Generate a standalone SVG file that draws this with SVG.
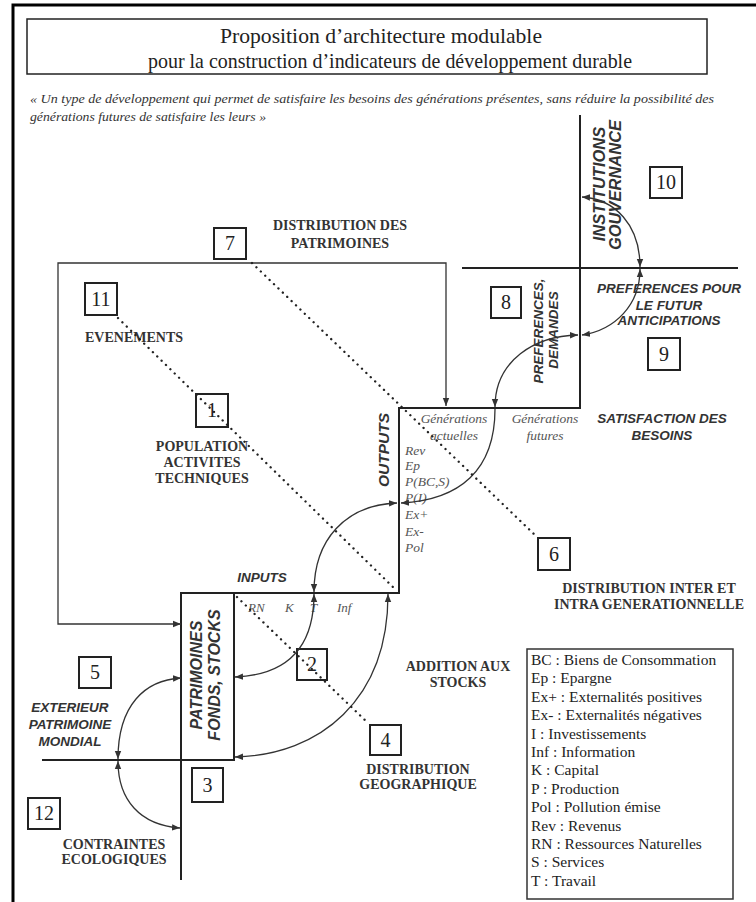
<svg xmlns="http://www.w3.org/2000/svg" width="756" height="902" viewBox="0 0 756 902">
<defs>
<style>
.frame{fill:none;stroke:#000;stroke-width:3}
.axis{fill:none;stroke:#222;stroke-width:2}
.thin{fill:none;stroke:#333;stroke-width:1.3}
.cv{fill:none;stroke:#333;stroke-width:1.3;marker-start:url(#ah);marker-end:url(#ah)}
.cve{fill:none;stroke:#333;stroke-width:1.3;marker-end:url(#ah)}
.dot{fill:none;stroke:#222;stroke-width:2.3;stroke-dasharray:0.1 6;stroke-linecap:round}
.nb{fill:none;stroke:#222;stroke-width:2}
.num{font-family:"Liberation Serif",serif;font-size:20px;text-anchor:middle;fill:#222}
.lb{font-family:"Liberation Serif",serif;font-weight:bold;font-size:14px;fill:#333;text-anchor:middle}
.sb{font-family:"Liberation Sans",Arial,sans-serif;font-weight:bold;font-style:italic;font-size:13.5px;fill:#333;text-anchor:middle}
.rot{font-family:"Liberation Sans",Arial,sans-serif;font-weight:bold;font-style:italic;font-size:16px;fill:#333;text-anchor:middle}
.it{font-family:"Liberation Serif",serif;font-style:italic;font-size:13.5px;fill:#555}
.leg{font-family:"Liberation Serif",serif;font-size:15.5px;fill:#222}
.ttl{font-family:"Liberation Serif",serif;font-size:21px;fill:#222;text-anchor:middle}
.qt{font-family:"Liberation Serif",serif;font-style:italic;font-size:13px;fill:#333}
</style>
<marker id="ah" viewBox="0 0 10 10" refX="10" refY="5" markerWidth="8" markerHeight="8" markerUnits="userSpaceOnUse" orient="auto-start-reverse"><path d="M0,1 L10,5 L0,9 z" fill="#333"/></marker>
</defs>
<rect width="756" height="902" fill="#fff"/>
<path class="frame" d="M13,902 L13,5 L756,5"/>

<g id="title">
<rect x="27" y="19" width="680" height="55" fill="none" stroke="#222" stroke-width="1.5"/>
<text class="ttl" x="381" y="43" textLength="322" lengthAdjust="spacingAndGlyphs">Proposition d’architecture modulable</text>
<text class="ttl" x="390" y="68" textLength="484" lengthAdjust="spacingAndGlyphs">pour la construction d’indicateurs de développement durable</text>
</g>
<g id="quote">
<text class="qt" x="30" y="103" textLength="684" lengthAdjust="spacingAndGlyphs">« Un type de développement qui permet de satisfaire les besoins des générations présentes, sans réduire la possibilité des</text>
<text class="qt" x="30" y="121" textLength="236" lengthAdjust="spacingAndGlyphs">générations futures de satisfaire les leurs »</text>
</g>

<g id="structure">
<path class="axis" d="M181,880 L181,593 L399,593 L399,408 L580,408 L580,115"/>
<path class="axis" d="M234,593 L234,760 L42,760"/>
<path class="axis" d="M462,268 L738,268"/>
</g>

<g id="node-outputs">
<text class="rot" style="font-size:15.5px" transform="translate(388.5,450) rotate(-90)">OUTPUTS</text>
<text class="it" x="454" y="423" text-anchor="middle">Générations</text>
<text class="it" x="454" y="440" text-anchor="middle">actuelles</text>
<text class="it" x="545" y="423" text-anchor="middle">Générations</text>
<text class="it" x="545" y="440" text-anchor="middle">futures</text>
<text class="it" x="405" y="455">Rev</text>
<text class="it" x="405" y="470">Ep</text>
<text class="it" x="405" y="486">P(BC,S)</text>
<text class="it" x="405" y="502">P(I)</text>
<text class="it" x="405" y="519">Ex+</text>
<text class="it" x="405" y="536">Ex-</text>
<text class="it" x="405" y="552">Pol</text>
</g>
<g id="node-inputs">
<text class="sb" x="262" y="582">INPUTS</text>
<text class="it" x="248" y="612" style="font-size:13px">RN</text>
<text class="it" x="285" y="612" style="font-size:13px">K</text>
<text class="it" x="310" y="612" style="font-size:13px">T</text>
<text class="it" x="337" y="612" style="font-size:13px">Inf</text>
</g>
<g id="node-patrimoines">
<text class="rot" transform="translate(202,675) rotate(-90)">PATRIMOINES</text>
<text class="rot" transform="translate(220,675) rotate(-90)">FONDS, STOCKS</text>
</g>
<g id="node-institutions">
<text class="rot" style="font-size:16.5px" transform="translate(605,184) rotate(-90)">INSTITUTIONS</text>
<text class="rot" style="font-size:16.5px" transform="translate(621,185) rotate(-90)">GOUVERNANCE</text>
</g>
<g id="node-preferences">
<text class="sb" transform="translate(543,331) rotate(-90)">PREFERENCES,</text>
<text class="sb" transform="translate(558,330) rotate(-90)">DEMANDES</text>
</g>
<g id="node-futur">
<text class="sb" x="669" y="293">PREFERENCES POUR</text>
<text class="sb" x="669" y="310">LE FUTUR</text>
<text class="sb" x="669" y="325">ANTICIPATIONS</text>
</g>
<g id="node-satisfaction">
<text class="sb" x="662" y="423">SATISFACTION DES</text>
<text class="sb" x="662" y="440">BESOINS</text>
</g>
<g id="node-exterieur">
<text class="sb" x="70" y="712">EXTERIEUR</text>
<text class="sb" x="70" y="729">PATRIMOINE</text>
<text class="sb" x="70" y="746">MONDIAL</text>
</g>

<g id="labels">
<text class="lb" x="340" y="230">DISTRIBUTION DES</text>
<text class="lb" x="340" y="248">PATRIMOINES</text>
<text class="lb" x="134" y="342">EVENEMENTS</text>
<text class="lb" x="202" y="451" text-anchor="start">POPULATION</text>
<text class="lb" x="202" y="467" text-anchor="start">ACTIVITES</text>
<text class="lb" x="202" y="483" text-anchor="start">TECHNIQUES</text>
<text class="lb" x="649" y="593">DISTRIBUTION INTER ET</text>
<text class="lb" x="649" y="609">INTRA GENERATIONNELLE</text>
<text class="lb" x="458" y="671">ADDITION AUX</text>
<text class="lb" x="458" y="687">STOCKS</text>
<text class="lb" x="418" y="774">DISTRIBUTION</text>
<text class="lb" x="418" y="789">GEOGRAPHIQUE</text>
<text class="lb" x="114" y="849">CONTRAINTES</text>
<text class="lb" x="114" y="864">ECOLOGIQUES</text>
</g>

<g id="num-boxes">
<g id="n7"><rect class="nb" x="214" y="228" width="32" height="31"/><text class="num" x="230" y="250">7</text></g>
<g id="n11"><rect class="nb" x="85" y="283" width="32" height="32"/><text class="num" x="101" y="306">11</text></g>
<g id="n1"><rect class="nb" x="196" y="394" width="32" height="33"/><text class="num" x="212" y="417">1</text></g>
<g id="n8"><rect class="nb" x="491" y="287" width="30" height="31"/><text class="num" x="506" y="309">8</text></g>
<g id="n10"><rect class="nb" x="650" y="167" width="32" height="31"/><text class="num" x="666" y="189">10</text></g>
<g id="n9"><rect class="nb" x="648" y="338" width="32" height="32"/><text class="num" x="664" y="361">9</text></g>
<g id="n6"><rect class="nb" x="538" y="538" width="32" height="32"/><text class="num" x="554" y="561">6</text></g>
<g id="n2"><rect class="nb" x="297" y="649" width="30" height="31"/><text class="num" x="312" y="671">2</text></g>
<g id="n4"><rect class="nb" x="370" y="725" width="31" height="30"/><text class="num" x="385.5" y="747">4</text></g>
<g id="n3"><rect class="nb" x="192" y="768" width="31" height="34"/><text class="num" x="207.5" y="792">3</text></g>
<g id="n5"><rect class="nb" x="79" y="657" width="32" height="31"/><text class="num" x="95" y="679">5</text></g>
<g id="n12"><rect class="nb" x="28" y="798" width="32" height="31"/><text class="num" x="44" y="820">12</text></g>
</g>

<g id="legend">
<rect x="527" y="649" width="206" height="250" fill="none" stroke="#333" stroke-width="1.5"/>
<text class="leg" x="531" y="665">BC : Biens de Consommation</text>
<text class="leg" x="531" y="683.4">Ep : Epargne</text>
<text class="leg" x="531" y="701.8">Ex+ : Externalités positives</text>
<text class="leg" x="531" y="720.2">Ex- : Externalités négatives</text>
<text class="leg" x="531" y="738.6">I : Investissements</text>
<text class="leg" x="531" y="757">Inf : Information</text>
<text class="leg" x="531" y="775.4">K : Capital</text>
<text class="leg" x="531" y="793.8">P : Production</text>
<text class="leg" x="531" y="812.2">Pol : Pollution émise</text>
<text class="leg" x="531" y="830.6">Rev : Revenus</text>
<text class="leg" x="531" y="849">RN : Ressources Naturelles</text>
<text class="leg" x="531" y="867.4">S : Services</text>
<text class="leg" x="531" y="885.8">T : Travail</text>
</g>

<g id="connectors">
<path class="thin" style="marker-start:url(#ah);marker-end:url(#ah)" d="M446,406 L446,263 L58,263 L58,624 L181,624"/>
<path class="cv" d="M582,197 C615,199 640,225 640,267"/>
<path class="cv" d="M640,269 C640,305 615,330 582,335"/>
<path class="cv" d="M578,335 C535,336 495,360 495,407"/>
<path class="cve" d="M495,409 C495,470 460,500 401,503"/>
<path class="cv" d="M397,503 C345,505 314,540 314,592"/>
<path class="cv" d="M314,594 C314,650 285,675 235,677"/>
<path class="cv" d="M388,594 C388,700 320,755 235,757"/>
<path class="cv" d="M118,759 C118,705 145,680 181,678"/>
<path class="cv" d="M118,761 C118,800 140,825 180,828"/>
<path class="dot" d="M118,318 L396,590"/>
<path class="dot" d="M252,263 L536,536"/>
<path class="dot" d="M237,597 L368,723"/>
</g>
</svg>
